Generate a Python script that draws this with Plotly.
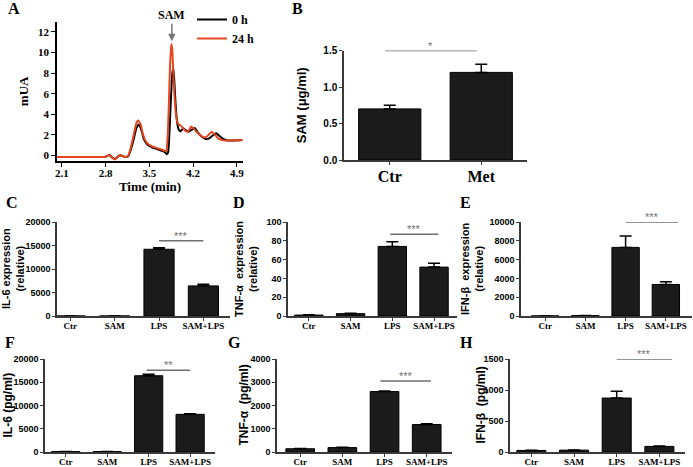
import plotly.graph_objects as go

W, H = 693, 467

# ---------------- data ----------------
# Panel A chromatograms
t_0h = [2.02, 2.5, 2.78, 2.83, 2.86, 2.90, 2.95, 3.00, 3.04, 3.08, 3.12, 3.16, 3.20, 3.25, 3.29, 3.33,
        3.37, 3.41, 3.46, 3.52, 3.60, 3.68, 3.74, 3.78, 3.80, 3.82, 3.845, 3.87, 3.885, 3.90, 3.92,
        3.945, 3.97, 4.00, 4.04, 4.08, 4.13, 4.18, 4.23, 4.28, 4.34, 4.40, 4.46, 4.52, 4.57, 4.62,
        4.68, 4.76, 4.85, 4.99]
mua_0h = [-0.15, -0.15, -0.15, -0.05, 0.05, -0.2, -0.35, -0.1, 0.0, -0.1, -0.15, -0.1, 0.5, 1.6, 2.6, 3.0,
          2.5, 1.6, 1.1, 0.85, 0.65, 0.5, 0.35, 0.1, 0.3, 2.0, 5.5, 8.1, 8.4, 7.2, 5.0,
          3.2, 2.5, 2.35, 2.6, 2.45, 2.3, 2.5, 2.65, 2.2, 1.8, 1.6, 1.65, 1.95, 2.15, 1.9,
          1.6, 1.45, 1.45, 1.5]
t_24h = [2.02, 2.5, 2.78, 2.83, 2.86, 2.90, 2.95, 3.00, 3.04, 3.08, 3.12, 3.16, 3.20, 3.25, 3.29, 3.32,
         3.36, 3.40, 3.45, 3.52, 3.60, 3.68, 3.74, 3.77, 3.79, 3.81, 3.83, 3.85, 3.865, 3.88, 3.90,
         3.925, 3.95, 3.97, 4.00, 4.04, 4.08, 4.12, 4.17, 4.21, 4.27, 4.34, 4.40, 4.45, 4.50, 4.55,
         4.61, 4.70, 4.80, 4.99]
mua_24h = [-0.15, -0.15, -0.15, -0.05, 0.05, -0.2, -0.4, -0.1, 0.0, -0.1, -0.15, -0.05, 0.7, 2.0, 3.1, 3.4,
           3.0, 2.0, 1.3, 0.95, 0.75, 0.6, 0.45, 0.4, 1.5, 4.5, 8.5, 10.8, 10.4, 8.5, 6.0,
           4.0, 3.2, 3.0, 2.9, 2.65, 2.35, 2.3, 2.8, 2.6, 2.2, 1.85, 1.75, 2.0, 2.3, 2.0,
           1.6, 1.45, 1.45, 1.5]
a_xticks = [2.1, 2.8, 3.5, 4.2, 4.9]
a_yticks = [0, 2, 4, 6, 8, 10, 12]

# Panel B
b_groups = ["Ctr", "Met"]
b_vals = [0.70, 1.20]
b_err = [0.05, 0.11]
b_ticks = [0.0, 0.5, 1.0, 1.5]

groups = ["Ctr", "SAM", "LPS", "SAM+LPS"]
c_vals = [1, 3, 14200, 6400]
c_err = [0, 0, 300, 350]
c_ticks = [0, 5000, 10000, 15000, 20000]
d_vals = [1.0, 2.5, 74, 52]
d_err = [0.2, 0.4, 5, 4]
d_ticks = [0, 20, 40, 60, 80, 100]
e_vals = [10, 50, 7300, 3350]
e_err = [0, 0, 1200, 300]
e_ticks = [0, 2000, 4000, 6000, 8000, 10000]
f_vals = [100, 100, 16400, 8100]
f_err = [0, 0, 300, 100]
f_ticks = [0, 5000, 10000, 15000, 20000]
g_vals = [140, 190, 2600, 1180]
g_err = [15, 15, 25, 40]
g_ticks = [0, 1000, 2000, 3000, 4000]
h_vals = [25, 30, 870, 90]
h_err = [3, 3, 110, 5]
h_ticks = [0, 500, 1000, 1500]

# ---------------- helpers ----------------
def dx(a, b):
    return [a / W, b / W]

def dy(top, bottom):
    return [1 - bottom / H, 1 - top / H]

SERIF = "Liberation Serif"
SANS = "Liberation Sans"
BAR = "#1b1b1b"
AX = "#3a3a3a"
SIG = "#707070"

fig = go.Figure()

# ---- Panel A ----
fig.add_trace(go.Scatter(x=t_0h, y=mua_0h, mode="lines", name="<b>0 h</b>",
                         line=dict(color="black", width=2, shape="spline", smoothing=0.5),
                         xaxis="x", yaxis="y"))
fig.add_trace(go.Scatter(x=t_24h, y=mua_24h, mode="lines", name="<b>24 h</b>",
                         line=dict(color="#e6461e", width=2, shape="spline", smoothing=0.5),
                         xaxis="x", yaxis="y"))

layout = dict(
    width=W, height=H, margin=dict(l=0, r=0, t=0, b=0, autoexpand=False),
    paper_bgcolor="white", plot_bgcolor="white",
    showlegend=True,
    legend=dict(x=192 / W, y=1 - 5 / H, xanchor="left", yanchor="top",
                font=dict(family=SERIF, size=12, color="black"),
                bgcolor="rgba(0,0,0,0)", tracegroupgap=0, itemwidth=30),
)

layout["xaxis"] = dict(domain=dx(57, 243), range=[2.02, 5.0], tickvals=a_xticks,
                       ticktext=["<b>%.1f</b>" % v for v in a_xticks], automargin=False,
                       showline=True, linecolor="black", linewidth=1.5, ticks="outside",
                       ticklen=4, tickcolor="black", showgrid=False, zeroline=False,
                       ticklabelstandoff=-3,
                       tickfont=dict(family=SERIF, size=11, color="black"),
                       title=dict(text="<b>Time (min)</b>", standoff=0,
                                  font=dict(family=SERIF, size=13, color="black")),
                       anchor="y")
layout["yaxis"] = dict(domain=dy(21.7, 161), range=[-0.55, 13], tickvals=a_yticks,
                       ticktext=["<b>%d</b>" % v for v in a_yticks], automargin=False,
                       showline=True, linecolor="black", linewidth=1.5, ticks="outside",
                       ticklen=4, tickcolor="black", showgrid=False, zeroline=False,
                       tickfont=dict(family=SERIF, size=11, color="black"),
                       title=dict(text="<b>mUA</b>", standoff=6,
                                  font=dict(family=SERIF, size=13, color="black")),
                       anchor="x")

annotations = [
    dict(x=3.86, y=11.1, xref="x", yref="y", text="<b>SAM</b>", showarrow=True,
         ax=0, ay=-26, arrowhead=2, arrowsize=1, arrowwidth=1.5, arrowcolor="#777777",
         font=dict(family=SERIF, size=12, color="black")),
]
shapes = []

# ---- bar panels ----
def bar_panel(idx, cats, vals, errs, xdom, ydom, yrange, ytickvals, ytext, ytitle, title_x,
              catsize, sig, stars, xrange, width, tickfs=9, titlefs=12, labelshift=-3):
    xa = "x%d" % idx
    ya = "y%d" % idx
    fig.add_trace(go.Bar(x=list(range(len(cats))), y=vals, width=width,
                         marker=dict(color=BAR, line=dict(color="black", width=1)),
                         error_y=dict(type="data", array=errs, arrayminus=[0] * len(errs),
                                      symmetric=False, color="black", thickness=1.5, width=6),
                         xaxis=xa, yaxis=ya, showlegend=False))
    layout["xaxis%d" % idx] = dict(domain=xdom, range=xrange, tickvals=list(range(len(cats))),
                                   ticktext=["<b>%s</b>" % c for c in cats], automargin=False,
                                   showline=True, linecolor=AX, linewidth=1.5, ticks="outside",
                                   ticklen=3, tickcolor=AX, showgrid=False, zeroline=False,
                                   ticklabelstandoff=labelshift,
                                   tickfont=dict(family=SERIF, size=catsize, color="black"),
                                   anchor=ya, fixedrange=True)
    layout["yaxis%d" % idx] = dict(domain=ydom, range=yrange, tickvals=ytickvals,
                                   ticktext=["<b>%s</b>" % t for t in ytext], automargin=False,
                                   showline=True, linecolor=AX, linewidth=1.5, ticks="outside",
                                   ticklen=3, tickcolor=AX, showgrid=False, zeroline=False,
                                   tickfont=dict(family=SANS, size=tickfs, color="black"),
                                   anchor=xa)
    if title_x is not None:
        annotations.append(dict(x=title_x / W, y=(ydom[0] + ydom[1]) / 2, xref="paper",
                                yref="paper", text=ytitle, textangle=-90, showarrow=False,
                                xanchor="center", yanchor="middle",
                                font=dict(family=SANS, size=titlefs, color="black")))
    else:
        layout["yaxis%d" % idx]["title"] = dict(text=ytitle, standoff=14,
                                                font=dict(family=SANS, size=titlefs, color="black"))
    x0, x1, yv = sig
    shapes.append(dict(type="line", xref=xa, yref=ya, x0=x0, x1=x1, y0=yv, y1=yv,
                       line=dict(color=SIG, width=1.5)))
    annotations.append(dict(x=(x0 + x1) / 2, y=yv, xref=xa, yref=ya, text=stars,
                            showarrow=False, yanchor="bottom", yshift=-3,
                            font=dict(family=SANS, size=11, color=SIG)))

bar_panel(2, b_groups, b_vals, b_err, dx(344, 527), dy(50.5, 160), [0, 1.5],
          b_ticks, ["%.1f" % v for v in b_ticks], "<b>SAM (μg/ml)</b>", None, 16,
          (-0.05, 0.95, 1.5), "*", [-0.5, 1.5], 0.68, tickfs=10, titlefs=13, labelshift=-2)

row2_top, row2_zero = 222, 316
row3_top, row3_zero = 359, 452

bar_panel(3, groups, c_vals, c_err, dx(57, 230), dy(row2_top, row2_zero), [0, 20000],
          c_ticks, [str(v) for v in c_ticks], "<b>IL-6 expression<br>(relative)</b>", 13, 9,
          (2.0, 3.0, 16000), "***", [-0.3, 3.6], 0.68, titlefs=11)
bar_panel(4, groups, d_vals, d_err, dx(288, 457), dy(row2_top, row2_zero), [0, 100],
          d_ticks, [str(v) for v in d_ticks], "<b>TNF-α  expression<br>(relative)</b>", 246, 9,
          (1.95, 3.1, 87), "***", [-0.5, 3.55], 0.68, titlefs=11)
bar_panel(5, groups, e_vals, e_err, dx(521, 692), dy(row2_top, row2_zero), [0, 10000],
          e_ticks, [str(v) for v in e_ticks], "<b>IFN-β  expression<br>(relative)</b>", 472, 9,
          (2.0, 3.3, 10000), "***", [-0.6, 3.65], 0.68, titlefs=11)
bar_panel(6, groups, f_vals, f_err, dx(45, 215), dy(row3_top, row3_zero), [0, 20000],
          f_ticks, [str(v) for v in f_ticks], "<b>IL-6 (pg/ml)</b>", 7, 9,
          (1.95, 3.0, 17600), "**", [-0.5, 3.6], 0.68)
bar_panel(7, groups, g_vals, g_err, dx(277, 452), dy(row3_top, row3_zero), [0, 4000],
          g_ticks, [str(v) for v in g_ticks], "<b>TNF-α  (pg/ml)</b>", 243, 9,
          (1.9, 3.1, 3050), "***", [-0.55, 3.6], 0.68)
bar_panel(8, groups, h_vals, h_err, dx(510, 685), dy(row3_top, row3_zero), [0, 1500],
          h_ticks, [str(v) for v in h_ticks], "<b>IFN-β  (pg/ml)</b>", 480, 9,
          (2.0, 3.3, 1500), "***", [-0.5, 3.6], 0.68)

# panel letters
for letter, px, py in [("A", 6, 8), ("B", 290, 8), ("C", 4, 203), ("D", 231, 203),
                       ("E", 458, 203), ("F", 3, 342), ("G", 226, 342), ("H", 458, 342)]:
    annotations.append(dict(x=px / W, y=1 - py / H, xref="paper", yref="paper",
                            text="<b>%s</b>" % letter, showarrow=False,
                            xanchor="left", yanchor="middle",
                            font=dict(family=SERIF, size=16, color="black")))

layout["annotations"] = annotations
layout["shapes"] = shapes
fig.update_layout(**layout)
fig.write_html("out.html", config={"displayModeBar": False},
               post_script="document.body.style.margin='0';document.body.style.padding='0';")
